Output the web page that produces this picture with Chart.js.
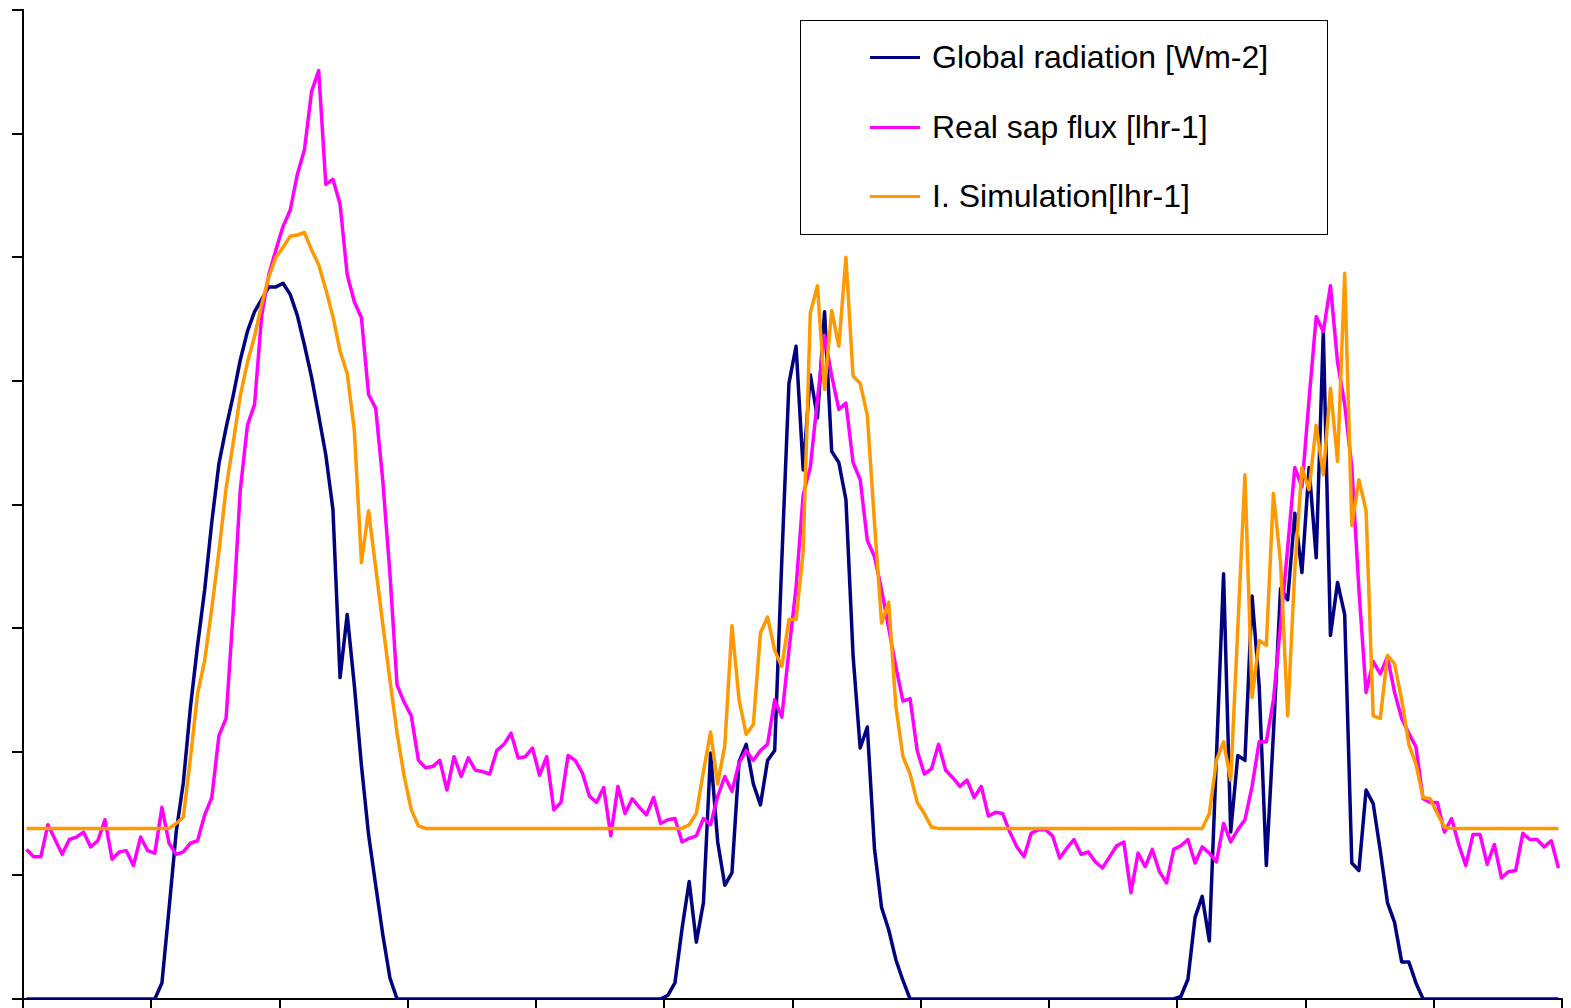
<!DOCTYPE html>
<html>
<head>
<meta charset="utf-8">
<script src="https://cdn.jsdelivr.net/npm/chart.js@4.4.1/dist/chart.umd.min.js"></script>
<style>
  html, body { margin: 0; padding: 0; background: #fff; }
  #wrap { position: relative; width: 1571px; height: 1008px; }
  #legend {
    position: absolute; left: 800px; top: 20px; width: 526px; height: 213px;
    border: 1px solid #000; background: #fff;
    font-family: "Liberation Sans", Arial, sans-serif; font-size: 32px; color: #000;
  }
  .item { position: absolute; left: 0; height: 36px; display: flex; align-items: center; white-space: nowrap; }
  .swatch { width: 50px; height: 3px; margin-left: 69px; margin-right: 12px; }
</style>
</head>
<body>
<div id="wrap">
  <canvas id="chart" width="1571" height="1008"></canvas>
  <div id="legend"></div>
</div>
<script>
// 3 days, one sample every 20 minutes (216 samples), ticks every 6 hours
const seriesNames = ['Global radiation [Wm-2]', 'Real sap flux [lhr-1]', 'I. Simulation[lhr-1]'];
const seriesColors = ['#000080', '#FF00FF', '#FF9900'];

const radiation = [
    0, 0, 0, 0, 0, 0, 0, 0, 0, 0, 0, 0, 0, 0, 0, 0, 0, 0, 0,
    13, 73, 135, 175, 236, 286, 331, 386, 433, 462, 488, 517, 540, 556, 566, 576, 576, 579,
    570, 553, 529, 503, 472, 440, 396, 260, 311, 254, 189, 133, 92, 52, 17,
    0, 0, 0, 0, 0, 0, 0, 0, 0, 0, 0, 0, 0, 0, 0, 0, 0, 0, 0,
    0, 0, 0, 0, 0, 0, 0, 0, 0, 0, 0, 0, 0, 0, 0, 0, 0, 0, 0,
    3, 13, 57, 95, 46, 78, 199, 127, 92, 102, 192, 206, 174, 157, 193, 201, 355,
    498, 528, 428, 505, 470, 556, 443, 434, 404, 278, 203, 220, 122, 74, 56, 32, 15,
    0, 0, 0, 0, 0, 0, 0, 0, 0, 0, 0, 0, 0, 0, 0, 0, 0, 0, 0,
    0, 0, 0, 0, 0, 0, 0, 0, 0, 0, 0, 0, 0, 0, 0, 0, 0, 0, 0,
    2, 16, 66, 83, 47, 196, 344, 135, 197, 193, 326, 253, 108, 215, 332, 323, 393,
    345, 430, 357, 540, 294, 337, 311, 110, 104, 169, 158, 120, 78, 62, 30, 30, 13,
    0, 0, 0, 0, 0, 0, 0, 0, 0, 0, 0, 0, 0, 0, 0, 0, 0, 0, 0, 0
];

const sapFlux = [
    121, 115, 115, 141, 129, 117, 129, 131, 135, 123, 128, 145, 113, 119, 120, 108, 131, 120, 118,
    155, 126, 117, 119, 126, 128, 149, 163, 213, 227, 313, 412, 464, 481, 553, 586, 606, 625,
    638, 667, 687, 734, 751, 659, 663, 643, 586, 564, 551, 489, 478, 419, 344, 254, 240, 229,
    193, 187, 188, 193, 169, 196, 180, 195, 185, 184, 182, 201, 206, 215, 195, 196, 203, 181,
    196, 153, 159, 197, 193, 183, 164, 159, 171, 132, 172, 150, 162, 155, 149, 163, 142, 145,
    146, 127, 130, 132, 146, 141, 164, 180, 168, 191, 201, 193, 201, 206, 242, 228, 282, 333,
    408, 430, 485, 537, 504, 477, 482, 434, 420, 371, 358, 331, 300, 269, 241, 243, 201, 182,
    186, 206, 185, 179, 172, 177, 163, 172, 148, 151, 150, 135, 123, 115, 134, 137, 137, 132,
    114, 122, 129, 117, 119, 111, 106, 115, 124, 127, 86, 118, 107, 121, 103, 94, 121, 124,
    129, 110, 123, 118, 111, 142, 127, 137, 145, 172, 208, 208, 242, 303, 365, 430, 414, 485,
    552, 540, 577, 515, 481, 430, 331, 248, 273, 263, 277, 248, 227, 215, 204, 162, 159, 159,
    135, 146, 125, 108, 133, 133, 109, 125, 98, 103, 104, 134, 129, 129, 123, 128, 106
];

const simulation = [
    138, 138, 138, 138, 138, 138, 138, 138, 138, 138, 138, 138, 138, 138, 138, 138, 138, 138, 138, 138,
    138, 142, 147, 195, 247, 274, 316, 362, 413, 450, 488, 515, 536, 562, 584, 600, 608, 617,
    618, 620, 606, 594, 574, 552, 524, 506, 460, 353, 395, 349, 303, 258, 215, 180, 153, 140,
    138, 138, 138, 138, 138, 138, 138, 138, 138, 138, 138, 138, 138, 138, 138, 138, 138, 138,
    138, 138, 138, 138, 138, 138, 138, 138, 138, 138, 138, 138, 138, 138, 138, 138, 138, 138,
    138, 141, 150, 184, 216, 174, 205, 302, 242, 214, 222, 296, 309, 282, 269, 307, 307, 362,
    555, 577, 493, 557, 528, 600, 504, 498, 472, 386, 304, 321, 237, 196, 182, 159, 150, 139,
    138, 138, 138, 138, 138, 138, 138, 138, 138, 138, 138, 138, 138, 138, 138, 138, 138, 138, 138,
    138, 138, 138, 138, 138, 138, 138, 138, 138, 138, 138, 138, 138, 138, 138, 138, 138, 138,
    138, 150, 193, 208, 177, 300, 424, 244, 290, 286, 409, 353, 229, 347, 430, 412, 464,
    424, 494, 435, 587, 383, 420, 395, 229, 227, 278, 271, 242, 206, 190, 163, 162, 150, 139,
    138, 138, 138, 138, 138, 138, 138, 138, 138, 138, 138, 138, 138, 138, 138, 138
];

// sample centre in hours (20 min steps)
const hours = radiation.map((_, i) => (i + 0.5) / 3);
const toPoints = arr => arr.map((v, i) => ({ x: hours[i], y: v }));

const chart = new Chart(document.getElementById('chart'), {
    type: 'line',
    data: {
        datasets: [radiation, sapFlux, simulation].map((arr, k) => ({
            label: seriesNames[k],
            data: toPoints(arr),
            borderColor: seriesColors[k],
            backgroundColor: seriesColors[k],
            borderWidth: 3.5,
            borderJoinStyle: 'round',
            pointRadius: 0,
            tension: 0,
            order: 3 - k
        }))
    },
    options: {
        responsive: false,
        animation: false,
        devicePixelRatio: 1,
        layout: { padding: { left: 12, right: 9, top: 10, bottom: 0 } },
        plugins: { legend: { display: false }, tooltip: { enabled: false } },
        scales: {
            x: {
                type: 'linear',
                min: 0,
                max: 72,
                ticks: { display: false, stepSize: 6, maxTicksLimit: 20 },
                grid: { drawOnChartArea: false, color: '#000', lineWidth: 2, tickLength: 9 },
                border: { color: '#000', width: 2 }
            },
            y: {
                min: 0,
                max: 800,
                ticks: { display: false, stepSize: 100, maxTicksLimit: 20 },
                grid: { drawOnChartArea: false, color: '#000', lineWidth: 2, tickLength: 11 },
                border: { color: '#000', width: 2 }
            }
        }
    }
});

// legend box drawn as html, built from the datasets
function buildLegend(chart) {
    const box = document.getElementById('legend');
    const rowTops = [18, 88, 157];
    chart.data.datasets.forEach((ds, k) => {
        const item = document.createElement('div');
        item.className = 'item';
        item.style.top = rowTops[k] + 'px';
        const sw = document.createElement('span');
        sw.className = 'swatch';
        sw.style.background = ds.borderColor;
        const txt = document.createElement('span');
        txt.textContent = ds.label;
        item.appendChild(sw);
        item.appendChild(txt);
        box.appendChild(item);
    });
}
buildLegend(chart);
</script>
</body>
</html>
